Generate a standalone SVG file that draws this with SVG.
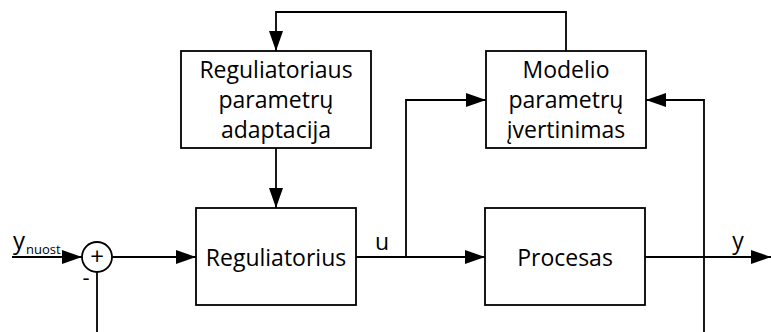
<svg xmlns="http://www.w3.org/2000/svg" width="771" height="332" viewBox="0 0 771 332">
  <style>
    .box { fill: #ffffff; stroke: #000000; stroke-width: 1.8; }
    .wire { fill: none; stroke: #000000; stroke-width: 1.8; }
    .lbl { font-family: "Open Sans", "Liberation Sans", sans-serif; font-size: 23px; fill: #000000; text-anchor: middle; }
    .sub { font-family: "Open Sans", "Liberation Sans", sans-serif; font-size: 13px; fill: #000000; }
  </style>
  <defs>
    <marker id="arrow" viewBox="0 0 20 14" refX="20" refY="7" markerWidth="20" markerHeight="14" markerUnits="userSpaceOnUse" orient="auto">
      <path d="M0,0 L20,7 L0,14 Z" fill="#000000"/>
    </marker>
  </defs>

  <rect width="771" height="332" fill="#ffffff"/>

  <!-- connectors -->
  <g id="connectors">
    <!-- reference input into the summing junction -->
    <line class="wire" x1="12" y1="257" x2="82" y2="257" marker-end="url(#arrow)"/>
    <!-- summing junction to controller -->
    <line class="wire" x1="112" y1="257" x2="196" y2="257" marker-end="url(#arrow)"/>
    <!-- negative feedback leg -->
    <line class="wire" x1="97" y1="272" x2="97" y2="332"/>
    <!-- control signal u to process -->
    <line class="wire" x1="356" y1="257" x2="485" y2="257" marker-end="url(#arrow)"/>
    <!-- u tapped to the estimator -->
    <polyline class="wire" points="406,257 406,100 486,100" marker-end="url(#arrow)"/>
    <!-- process output y -->
    <line class="wire" x1="645" y1="257" x2="771" y2="257" marker-end="url(#arrow)"/>
    <!-- y tapped to the estimator -->
    <polyline class="wire" points="704,332 704,100 646,100" marker-end="url(#arrow)"/>
    <!-- estimator to adaptation -->
    <polyline class="wire" points="566,51 566,12 276,12 276,51" marker-end="url(#arrow)"/>
    <!-- adaptation to controller -->
    <line class="wire" x1="276" y1="148" x2="276" y2="208" marker-end="url(#arrow)"/>
  </g>

  <!-- input label -->
  <g id="input-label">
    <text class="lbl" x="19" y="249" style="font-size:24px">y</text>
    <text class="sub" x="26" y="254">nuost</text>
  </g>

  <!-- summing junction -->
  <g id="sum">
    <circle cx="97" cy="257" r="15" fill="#ffffff" stroke="#000000" stroke-width="1.8"/>
    <text class="lbl" x="97" y="265" style="font-size:24px">+</text>
    <text class="lbl" x="86" y="285" style="font-size:22px">-</text>
  </g>

  <g id="adaptation">
    <rect class="box" x="181" y="51" width="190" height="97"/>
    <text class="lbl" x="276" y="78">Reguliatoriaus</text>
    <text class="lbl" x="276" y="108">parametrų</text>
    <text class="lbl" x="276" y="138">adaptacija</text>
  </g>

  <g id="estimator">
    <rect class="box" x="486" y="51" width="160" height="97"/>
    <text class="lbl" x="566" y="78">Modelio</text>
    <text class="lbl" x="566" y="108">parametrų</text>
    <text class="lbl" x="566" y="138">įvertinimas</text>
  </g>

  <g id="controller">
    <rect class="box" x="196" y="208" width="160" height="97"/>
    <text class="lbl" x="276" y="266">Reguliatorius</text>
  </g>

  <g id="process">
    <rect class="box" x="485" y="208" width="160" height="97"/>
    <text class="lbl" x="565" y="266">Procesas</text>
  </g>

  <!-- signal labels -->
  <g id="signal-labels">
    <text class="lbl" x="382" y="250">u</text>
    <text class="lbl" x="738" y="249">y</text>
  </g>
</svg>
